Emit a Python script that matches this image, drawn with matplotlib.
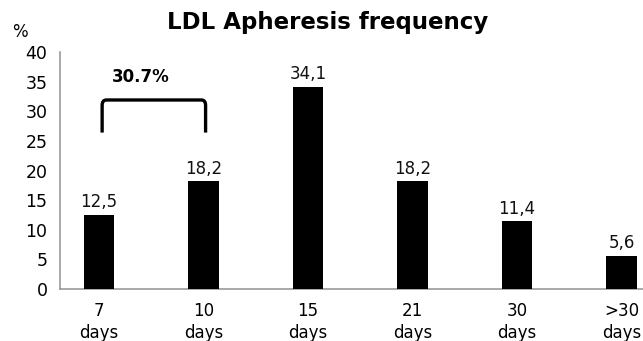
import matplotlib
matplotlib.use("Agg")
import matplotlib.pyplot as plt
from matplotlib.path import Path
from matplotlib.patches import PathPatch

categories = ["7\ndays", "10\ndays", "15\ndays", "21\ndays", "30\ndays", ">30\ndays"]
values = [12.5, 18.2, 34.1, 18.2, 11.4, 5.6]
value_labels = ["12,5", "18,2", "34,1", "18,2", "11,4", "5,6"]
yticks = [0, 5, 10, 15, 20, 25, 30, 35, 40]
title = "LDL Apheresis frequency"
bracket_label = "30.7%"

W, H = 643, 341
fig = plt.figure(figsize=(W / 100, H / 100), dpi=100)
x0, y0, y1 = 60, 289, 52
sp = 104.5
xl = -(99 - x0) / sp
xr = xl + (W + 60 - x0) / sp
ax_w = (W + 60 - x0) / W
ax = fig.add_axes([x0 / W, (H - y0) / H, ax_w, (y0 - y1) / H])
ax.set_xlim(xl, xr)
ax.set_ylim(0, 40)

xs = list(range(len(categories)))
ax.bar(xs, values, width=0.29, color="black", zorder=3)
for x, v, lab in zip(xs, values, value_labels):
    ax.text(x, v + 0.6, lab, ha="center", va="bottom", fontsize=12, color="#111111")

ax.set_yticks(yticks)
ax.set_yticklabels([str(t) for t in yticks], fontsize=12.5)
ax.set_xticks(xs)
ax.set_xticklabels(categories, fontsize=12, linespacing=1.3)
ax.tick_params(axis="both", length=0)
ax.tick_params(axis="y", pad=9)
ax.tick_params(axis="x", pad=9)
for s in ["top", "right"]:
    ax.spines[s].set_visible(False)
for s in ["left", "bottom"]:
    ax.spines[s].set_color("#999999")
    ax.spines[s].set_linewidth(1.2)

# bracket with rounded corners
bx0, bx1 = 0.03, 1.02
by0, by1 = 26.4, 31.9
rx, ry = 0.04, 0.9
verts = [(bx0, by0), (bx0, by1 - ry), (bx0, by1), (bx0 + rx, by1),
         (bx1 - rx, by1), (bx1, by1), (bx1, by1 - ry), (bx1, by0)]
codes = [Path.MOVETO, Path.LINETO, Path.CURVE3, Path.CURVE3,
         Path.LINETO, Path.CURVE3, Path.CURVE3, Path.LINETO]
ax.add_patch(PathPatch(Path(verts, codes), fill=False, lw=2.4, color="black",
                       capstyle="butt", zorder=4))
ax.text(0.4, 35.8, bracket_label, ha="center", va="center", fontsize=12, fontweight="bold")

fig.text(328 / W, 1 - 22 / H, title, ha="center", va="center", fontsize=16.5, fontweight="bold")
fig.text(20 / W, 1 - 32 / H, "%", ha="center", va="center", fontsize=12)

fig.savefig("out.png", dpi=100)
